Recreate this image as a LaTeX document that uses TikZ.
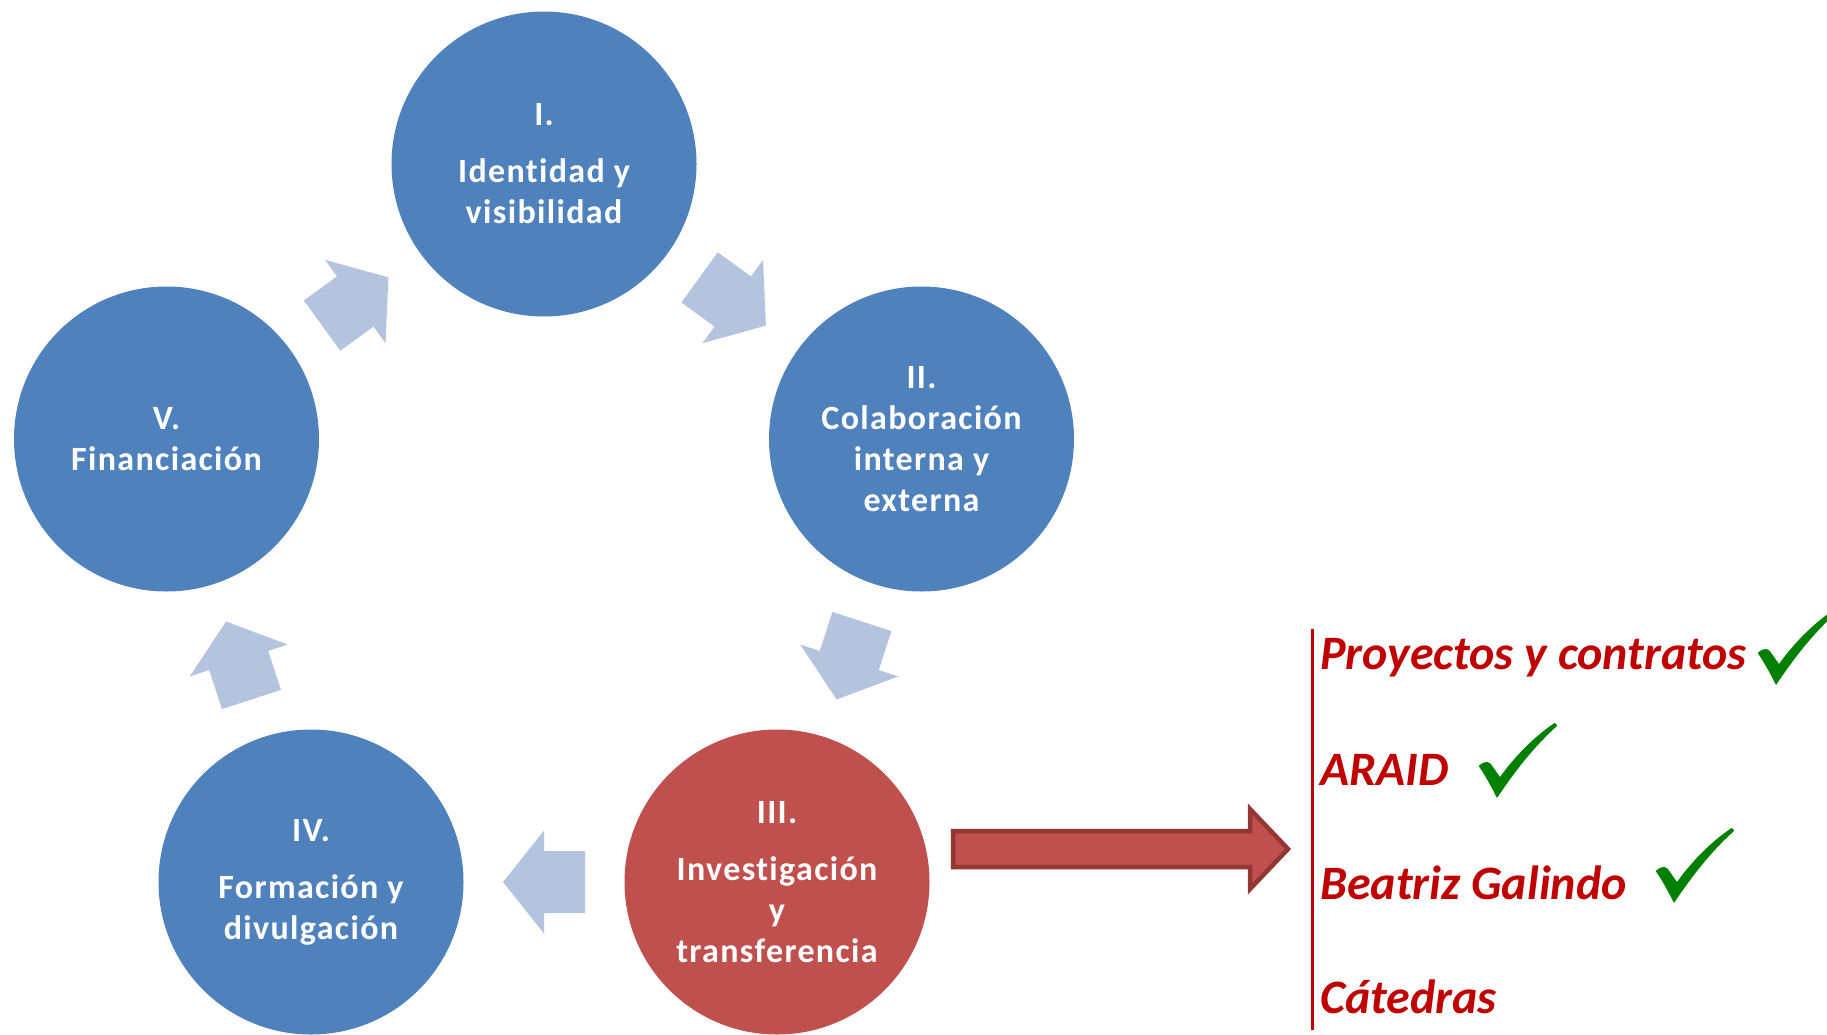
\documentclass[tikz,border=0pt]{standalone}
\usepackage{fontspec}
\setmainfont{Carlito}[Ligatures=NoCommon]
\newfontfamily\stagefont{Carlito}[Ligatures=NoCommon, LetterSpace=4]
\usetikzlibrary{calc}

\definecolor{stageblue}{HTML}{4F81BD}
\definecolor{stagered}{HTML}{C0504D}
\definecolor{cyclearrowfill}{HTML}{B4C3DE}
\definecolor{bigarrowfill}{HTML}{C0504D}
\definecolor{bigarrowedge}{HTML}{943634}
\definecolor{listred}{HTML}{C00000}
\definecolor{tickgreen}{HTML}{008000}

\tikzset{
  stage/.style={circle, minimum size=305pt, inner sep=0pt, text=white,
    align=center, font=\stagefont\bfseries\fontsize{34}{41}\selectfont},
  bluestage/.style={stage, fill=stageblue},
  redstage/.style={stage, fill=stagered},
  listitem/.style={anchor=base west, inner sep=0pt, text=listred,
    font=\bfseries\itshape\fontsize{48}{56}\selectfont},
  % short block arrow between two neighbouring stages
  cyclearrow/.pic={
    \fill[cyclearrowfill] (-41,-31) -- (0,-31) -- (0,-51.5) -- (41,0)
      -- (0,51.5) -- (0,31) -- (-41,31) -- cycle;
  },
  % green check mark, origin at its top left corner
  tick/.pic={
    \fill[tickgreen] (0.7,43) .. controls (4,39.5) and (9,37.5) .. (12.5,40.5)
      -- (22,54) .. controls (37,33) and (57,13) .. (76.5,0)
      .. controls (78,0.5) and (79,1.5) .. (79,3)
      .. controls (60,20) and (41,42) .. (19,75)
      .. controls (14,65) and (7,52) .. (0.7,43) -- cycle;
  }
}

\begin{document}
\begin{tikzpicture}[x=1pt, y=-1pt]
  \useasboundingbox (0,0) rectangle (1827,1034);

  % the five stages of the cycle
  \node[bluestage] (c1) at (544,164)   {I.\\[16pt] Identidad y\\ visibilidad};
  \node[bluestage] (c2) at (921.5,439) {II.\\ Colaboración\\ interna y\\ externa};
  \node[redstage]  (c3) at (777,882)   {III.\\[16pt] Investigación\\ y\\ transferencia};
  \node[bluestage] (c4) at (311,882)   {IV.\\[16pt] Formación y\\ divulgación};
  \node[bluestage] (c5) at (166.5,439) {V.\\ Financiación};

  % arrows of the cycle, halfway between neighbouring stages
  \pic[rotate=-36]  at ($(c1)!0.5!(c2)$) {cyclearrow};
  \pic[rotate=-108] at ($(c2)!0.5!(c3)$) {cyclearrow};
  \pic[rotate=180]  at ($(c3)!0.5!(c4)$) {cyclearrow};
  \pic[rotate=108]  at ($(c4)!0.5!(c5)$) {cyclearrow};
  \pic[rotate=36]   at ($(c5)!0.5!(c1)$) {cyclearrow};

  % large arrow pointing to the list of results
  \draw[fill=bigarrowfill, draw=bigarrowedge, line width=4.5pt, miter limit=4]
    (953,831) -- (1250,831) -- (1250,809) -- (1288,849) -- (1250,889)
    -- (1250,867) -- (953,867) -- cycle;

  % list of results
  \draw[listred, line width=3pt] (1312,629) -- (1312,1030);
  \node[listitem] (l1) at (1320,669)  {Proyectos y contratos};
  \node[listitem] (l2) at (1320,785)  {ARAID};
  \node[listitem] (l3) at (1320,899)  {Beatriz Galindo};
  \node[listitem] (l4) at (1320,1013) {Cátedras};

  \pic at (1757,610) {tick};
  \pic at (1478,723) {tick};
  \pic at (1655,828) {tick};
\end{tikzpicture}
\end{document}
